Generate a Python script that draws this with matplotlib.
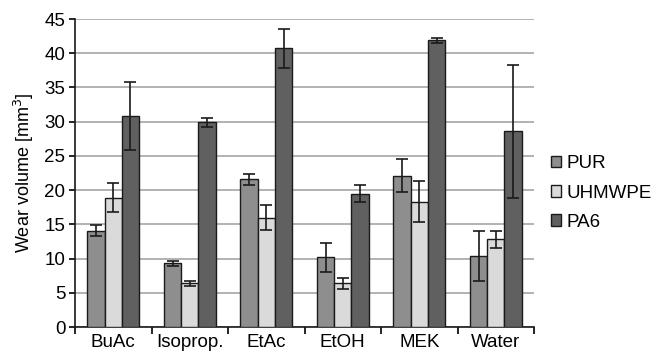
import numpy as np
import matplotlib.pyplot as plt

plt.rcParams['font.family'] = ['Liberation Sans', 'DejaVu Sans']

categories = ['BuAc', 'Isoprop.', 'EtAc', 'EtOH', 'MEK', 'Water']
series = ['PUR', 'UHMWPE', 'PA6']
pur = [14.1, 9.3, 21.6, 10.2, 22.1, 10.4]
pur_err = [0.8, 0.4, 0.8, 2.1, 2.4, 3.7]
uhmwpe = [18.9, 6.4, 16.0, 6.4, 18.3, 12.8]
uhmwpe_err = [2.1, 0.4, 1.8, 0.8, 3.0, 1.3]
pa6 = [30.8, 29.9, 40.7, 19.5, 41.9, 28.6]
pa6_err = [5.0, 0.7, 2.9, 1.2, 0.4, 9.7]

colors = ['#8e8e8e', '#dadada', '#606060']
fs = 13.5

fig = plt.figure(figsize=(6.61, 3.59), dpi=100)
ax = fig.add_axes([0.1135, 0.089, 0.6945, 0.858])

x = np.arange(len(categories))
w = 0.225
for i, (vals, errs) in enumerate([(pur, pur_err), (uhmwpe, uhmwpe_err), (pa6, pa6_err)]):
    ax.bar(x + (i - 1) * w, vals, w, color=colors[i], edgecolor='#1a1a1a',
           linewidth=1.0, label=series[i], zorder=3,
           yerr=errs, error_kw=dict(ecolor='#1a1a1a', elinewidth=1.2, capsize=4, capthick=1.2, zorder=4))

ax.set_xlim(-0.5, len(categories) - 0.5)
ax.set_ylim(0, 45)
ax.set_yticks(range(0, 46, 5))
ax.yaxis.grid(True, color='#a6a6a6', linewidth=1.2, zorder=0)
ax.set_axisbelow(True)

ax.set_xticks(x)
ax.set_xticklabels(categories, fontsize=fs)
ax.tick_params(axis='x', length=0, pad=5)
ax.set_xticks(np.arange(-0.5, len(categories)), minor=True)
ax.tick_params(axis='x', which='minor', length=5, width=1.2, direction='out')
ax.tick_params(axis='y', labelsize=fs, length=4, width=1.2, direction='out', pad=3)

for s in ['top', 'right']:
    ax.spines[s].set_visible(False)
for s in ['left', 'bottom']:
    ax.spines[s].set_linewidth(1.2)
    ax.spines[s].set_color('#1a1a1a')

ax.set_ylabel('Wear volume [mm$^3$]', fontsize=fs - 0.5, labelpad=6)

ax.legend(loc='center left', bbox_to_anchor=(1.0, 0.435), frameon=False,
          fontsize=fs, handlelength=0.55, handleheight=0.55, handletextpad=0.3,
          labelspacing=0.65)

fig.savefig('out.png', dpi=100)
